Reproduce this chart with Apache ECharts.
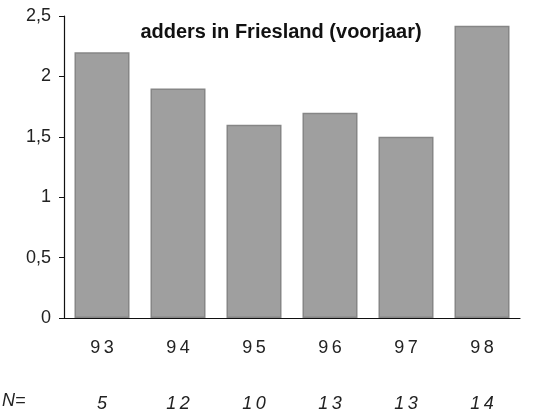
<!DOCTYPE html>
<html>
<head>
	<meta charset="utf-8">
	<title>adders in Friesland</title>
	<script src="https://cdn.jsdelivr.net/npm/echarts@6/dist/echarts.min.js"></script>
</head>
<body style="margin:0;background:#fff;">
	<div id="main" style="width: 538px;height: 414px;"></div>
</body>
<script type="text/javascript">
	// jaren, gemiddelden en aantallen
	var jaren = ['93', '94', '95', '96', '97', '98'];
	var waarden = [2.2, 1.9, 1.6, 1.7, 1.5, 2.42];
	var aantallen = ['5', '12', '10', '13', '13', '14'];

	var spaced = function (v) {
		return String(v).split('').join('\u2009');
	};

	var myChart = echarts.init(document.getElementById('main'));
	var option = {
		backgroundColor: '#fff',
		animation: false,
		title: {
			text: 'adders in Friesland (voorjaar)',
			left: 276,
			textAlign: 'center',
			top: 17,
			textStyle: {
				fontFamily: 'Liberation Sans, Arial',
				fontWeight: 'bold',
				fontSize: 20,
				color: '#111'
			}
		},
		graphic: [{
			type: 'text',
			left: 2,
			top: 392,
			style: {
				text: 'N=',
				font: 'italic 18px "Liberation Sans", Arial',
				fill: '#222'
			}
		}],
		grid: {
			left: 64,
			right: 18,
			top: 16,
			bottom: 96
		},
		xAxis: [{
			type: 'category',
			data: jaren,
			position: 'bottom',
			axisLine: { lineStyle: { color: '#111', width: 1.2 } },
			axisTick: { show: false },
			axisLabel: {
				margin: 21,
				fontSize: 18,
				color: '#222',
				fontFamily: 'Liberation Sans, Arial',
				formatter: spaced
			}
		}, {
			type: 'category',
			data: aantallen,
			position: 'bottom',
			offset: 56,
			axisLine: { show: false },
			axisTick: { show: false },
			axisLabel: {
				margin: 21,
				fontSize: 18,
				fontStyle: 'italic',
				color: '#222',
				fontFamily: 'Liberation Sans, Arial',
				formatter: spaced
			}
		}],
		yAxis: {
			type: 'value',
			min: 0,
			max: 2.5,
			interval: 0.5,
			splitLine: { show: false },
			axisLine: { show: true, lineStyle: { color: '#111', width: 1.2 } },
			axisTick: { show: true, length: 5, lineStyle: { color: '#111' } },
			axisLabel: {
				margin: 13,
				fontSize: 18,
				color: '#222',
				fontFamily: 'Liberation Sans, Arial',
				formatter: function (v) {
					return String(v).replace('.', ',');
				}
			}
		},
		series: [{
			type: 'bar',
			xAxisIndex: 0,
			data: waarden,
			barWidth: 55,
			itemStyle: {
				color: '#9f9f9f',
				borderColor: '#868686',
				borderWidth: 1.5
			}
		}]
	};
	myChart.setOption(option);
</script>
</html>
